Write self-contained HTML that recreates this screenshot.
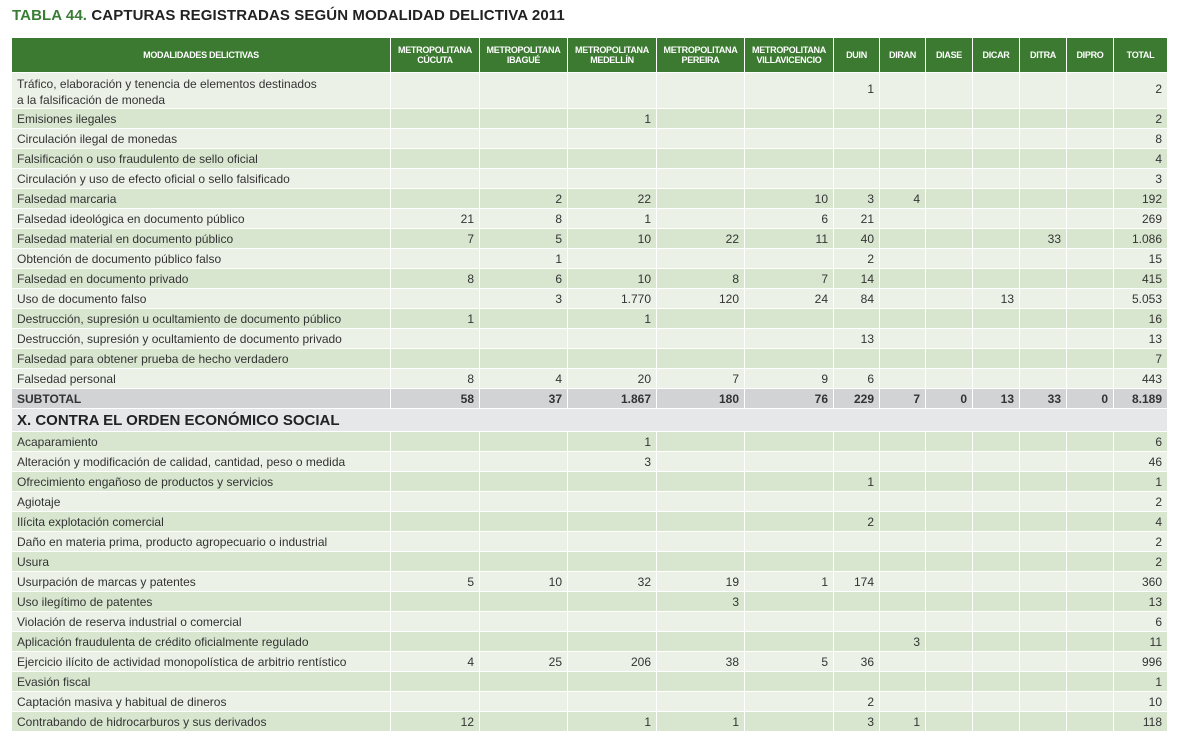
<!DOCTYPE html>
<html><head><meta charset="utf-8">
<style>
body{margin:0;width:1177px;height:743px;background:#fff;font-family:"Liberation Sans",sans-serif;position:relative;overflow:hidden}
#title{position:absolute;left:12px;top:7px;font-size:15px;font-weight:bold;color:#222;letter-spacing:0.1px}
#title span{color:#3a7d35}
.c{position:absolute;box-sizing:border-box;border-right:1px solid #fff;border-bottom:1px solid #fff;font-size:12px;color:#333;white-space:nowrap;overflow:hidden}
.h{background:#3b7a30;color:#fff;font-weight:bold;font-size:9px;text-align:center;display:flex;align-items:center;justify-content:center;line-height:10px;letter-spacing:-0.3px}
.n{text-align:right;padding-right:5px}
.l{padding-left:5px}
</style></head><body>
<div id="title"><span>TABLA 44.</span> CAPTURAS REGISTRADAS SEGÚN MODALIDAD DELICTIVA 2011</div>
<div id="tbl"></div>
<script>
const colEdges=[12,391,480,568,657,745,834,880,926,973,1020,1067,1114,1168];
const headers=["MODALIDADES DELICTIVAS","METROPOLITANA<br>CÚCUTA","METROPOLITANA<br>IBAGUÉ","METROPOLITANA<br>MEDELLÍN","METROPOLITANA<br>PEREIRA","METROPOLITANA<br>VILLAVICENCIO","DUIN","DIRAN","DIASE","DICAR","DITRA","DIPRO","TOTAL"];
const rowsA=[
["Tráfico, elaboración y tenencia de elementos destinados<br>a la falsificación de moneda","","","","","","1","","","","","","2"],
["Emisiones ilegales","","","1","","","","","","","","","2"],
["Circulación ilegal de monedas","","","","","","","","","","","","8"],
["Falsificación o uso fraudulento de sello oficial","","","","","","","","","","","","4"],
["Circulación y uso de efecto oficial o sello falsificado","","","","","","","","","","","","3"],
["Falsedad marcaria","","2","22","","10","3","4","","","","","192"],
["Falsedad ideológica en documento público","21","8","1","","6","21","","","","","","269"],
["Falsedad material en documento público","7","5","10","22","11","40","","","","33","","1.086"],
["Obtención de documento público falso","","1","","","","2","","","","","","15"],
["Falsedad en documento privado","8","6","10","8","7","14","","","","","","415"],
["Uso de documento falso","","3","1.770","120","24","84","","","13","","","5.053"],
["Destrucción, supresión u ocultamiento de documento público","1","","1","","","","","","","","","16"],
["Destrucción, supresión y ocultamiento de documento privado","","","","","","13","","","","","","13"],
["Falsedad para obtener prueba de hecho verdadero","","","","","","","","","","","","7"],
["Falsedad personal","8","4","20","7","9","6","","","","","","443"]];
const subtotal=["SUBTOTAL","58","37","1.867","180","76","229","7","0","13","33","0","8.189"];
const section="X. CONTRA EL ORDEN ECONÓMICO SOCIAL";
const rowsB=[
["Acaparamiento","","","1","","","","","","","","","6"],
["Alteración y modificación de calidad, cantidad, peso o medida","","","3","","","","","","","","","46"],
["Ofrecimiento engañoso de productos y servicios","","","","","","1","","","","","","1"],
["Agiotaje","","","","","","","","","","","","2"],
["Ilícita explotación comercial","","","","","","2","","","","","","4"],
["Daño en materia prima, producto agropecuario o industrial","","","","","","","","","","","","2"],
["Usura","","","","","","","","","","","","2"],
["Usurpación de marcas y patentes","5","10","32","19","1","174","","","","","","360"],
["Uso ilegítimo de patentes","","","","3","","","","","","","","13"],
["Violación de reserva industrial o comercial","","","","","","","","","","","","6"],
["Aplicación fraudulenta de crédito oficialmente regulado","","","","","","","3","","","","","11"],
["Ejercicio ilícito de actividad monopolística de arbitrio rentístico","4","25","206","38","5","36","","","","","","996"],
["Evasión fiscal","","","","","","","","","","","","1"],
["Captación masiva y habitual de dineros","","","","","","2","","","","","","10"],
["Contrabando de hidrocarburos y sus derivados","12","","1","1","","3","1","","","","","118"]];
const T=document.getElementById('tbl');
function cell(x,y,w,h,html,cls,bg,extra){
  const d=document.createElement('div');
  d.className='c '+cls;
  d.style.cssText=`left:${x}px;top:${y}px;width:${w}px;height:${h}px;background:${bg};${extra||''}`;
  d.innerHTML=html;
  T.appendChild(d);return d;
}
headers.forEach((t,i)=>{
  const d=cell(colEdges[i],38,colEdges[i+1]-colEdges[i],35,t,'h','#3b7a30');
  
  
});
function row(r,y,h,bg,idx,bold){
  r.forEach((t,i)=>{
    const w=colEdges[i+1]-colEdges[i];
    const lh=h>25?'line-height:16px;padding-top:3px;':`line-height:${h}px;`;
    const d=cell(colEdges[i],y,w,h,t,i==0?'l':'n',bg,(bold?'font-weight:bold;':'')+lh+(i>0&&h>25?'line-height:'+(h-4)+'px;padding-top:0;':''));
    
    
  });
}
const light='#ebf1e7',dark='#d8e6d0';
let y=73;
rowsA.forEach((r,k)=>{const h=k==0?36:20;row(r,y,h,k%2==0?light:dark,'a'+k);y+=h;});
row(subtotal,y,20,'#d2d3d5','subtotal',true);y+=20;
const s=cell(12,y,1156,23,section,'l','#e6e7e9','font-size:15px;font-weight:bold;line-height:23px;color:#222;');


y+=23;
rowsB.forEach((r,k)=>{row(r,y,20,k%2==0?dark:light,'b'+k);y+=20;});
</script>
</body></html>
